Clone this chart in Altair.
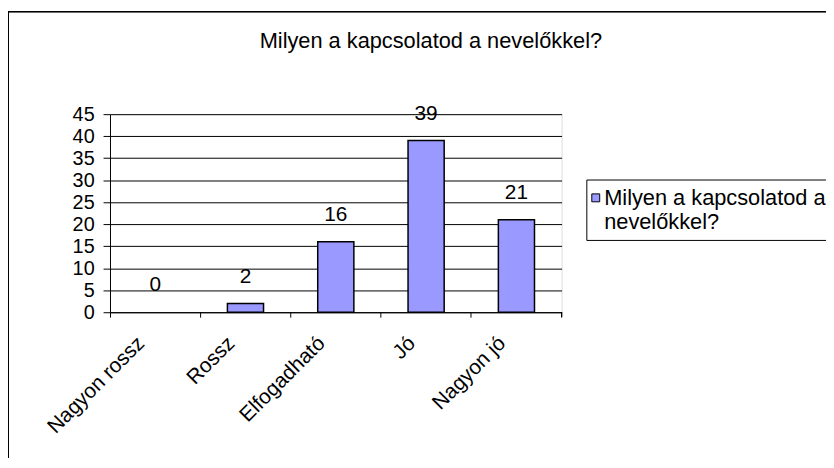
import altair as alt
import pandas as pd

categories = ["Nagyon rossz", "Rossz", "Elfogadható", "Jó", "Nagyon jó"]
values = [0, 2, 16, 39, 21]
series_name = "Milyen a kapcsolatod a nevelőkkel?"
y_ticks = [0, 5, 10, 15, 20, 25, 30, 35, 40, 45]

df = pd.DataFrame({"cat": categories, "val": values, "series": [series_name] * len(categories)})

FONT = "Liberation Sans"
W, H = 456, 200

x_enc = alt.X(
    "cat:N",
    sort=categories,
    scale=alt.Scale(paddingInner=0, paddingOuter=0),
    axis=alt.Axis(
        title=None, bandPosition=0, labelAngle=-45, labelAlign="right",
        labelBaseline="middle", labelOffset={"expr": "-14"}, labelPadding=23, tickSize=5,
        tickColor="black", domainColor="black", labelFontSize=21, labelColor="black",
        labelFont=FONT, grid=False, labelOverlap=False, labelBound=False,
    ),
)
y_enc = alt.Y(
    "val:Q",
    scale=alt.Scale(domain=[0, 45], nice=False),
    axis=alt.Axis(
        title=None, values=y_ticks, tickSize=7, labelPadding=9, grid=True,
        gridColor="black", gridWidth=1, domainColor="black", tickColor="black",
        labelFontSize=20, labelColor="black", labelFont=FONT, labelOverlap=False,
    ),
)

frame = alt.Chart(df).mark_rect(fillOpacity=0, stroke="black", strokeWidth=1).encode(
    x=alt.value(-102.5), x2=alt.value(900), y=alt.value(-103.5), y2=alt.value(600)
)

bars = alt.Chart(df).mark_bar(
    width=alt.RelativeBandSize(0.4), stroke="black", strokeWidth=1.5
).encode(
    x=x_enc,
    y=y_enc,
    strokeOpacity=alt.condition("datum.val == 0", alt.value(0), alt.value(1)),
    color=alt.Color(
        "series:N",
        scale=alt.Scale(range=["#9999FF"]),
        legend=alt.Legend(
            title=None, orient="none", legendX=481, legendY=66,
            labelExpr="[substring(datum.label, 0, 22), substring(datum.label, 23)]",
            labelFontSize=22, labelFont=FONT, labelColor="black", labelLimit=1000,
            labelBaseline="alphabetic", labelOffset={"expr": "-26"},
            symbolType="M-1.111,-0.611H-0.667V-0.167H-1.111Z", symbolSize=1296,
            symbolStrokeColor="black", symbolStrokeWidth=1, symbolFillColor="#9999FF",
            fillColor="white", strokeColor="black", padding=7,
        ),
    ),
)

labels = alt.Chart(df).mark_text(
    dy=-27, baseline="middle", fontSize=21, font=FONT, color="black"
).encode(x=x_enc, y=y_enc, text="val:Q")

last_tick = alt.Chart(df).mark_rule(color="black").encode(
    x=alt.value(W), y=alt.value(H), y2=alt.value(H + 5)
)

chart = alt.layer(frame, bars, labels, last_tick).properties(
    width=W, height=H,
    title=alt.TitleParams(
        text=series_name, fontSize=22, font=FONT, fontWeight="normal", color="black",
        anchor="middle", dx=96, offset=0, dy=59, baseline="alphabetic",
    ),
    autosize=alt.AutoSizeParams(type="none"),
    padding={"left": 103, "top": 105, "right": 267, "bottom": 145},
).configure_view(
    fill="#C0C0C0", stroke="#808080", strokeWidth=2
).configure(background="white")

chart.save("out.html", embed_options={"renderer": "svg", "actions": False})
